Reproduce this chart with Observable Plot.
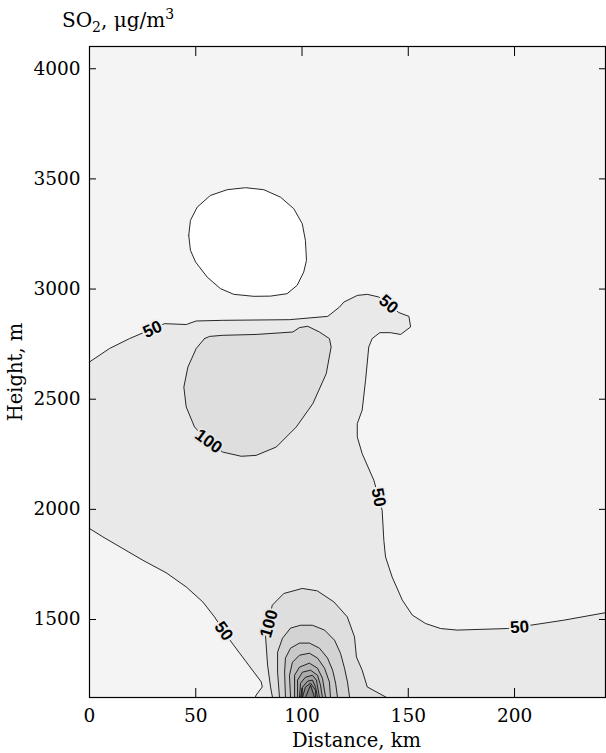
<!DOCTYPE html>
<html><head><meta charset="utf-8">
<script src="https://cdn.jsdelivr.net/npm/d3@7"></script>
<script src="https://cdn.jsdelivr.net/npm/@observablehq/plot@0.6"></script>
<style>
body{margin:0;background:#fff;}
#title{height:30px;font-family:"DejaVu Serif",serif;font-size:20px;line-height:20px;padding-left:62px;padding-top:10px;box-sizing:border-box;color:#000;}
#title sub,#title sup{font-size:14px;line-height:0;}
</style></head><body>
<div id="title">SO<sub>2</sub>, μg/m<sup>3</sup></div>
<div id="chart"></div>
<script>
// ---- axes ----
const xTicks = [0, 50, 100, 150, 200];
const yTicks = [1500, 2000, 2500, 3000, 3500, 4000];
const xDomain = [0, 242.8];
const yDomain = [1146, 4101];

// ---- contour lines, [distance km, height m] ----
const c50Upper = [[0,2669],[9.4,2730],[18.8,2775],[35.3,2843],[45.5,2839],[50.2,2855],[62.6,2858],[94.1,2861],[112.1,2876],[117.6,2918],[119.7,2941],[126.0,2971],[130.7,2976],[136.1,2964],[145.6,2893],[150.3,2876],[151.1,2828],[146.4,2794],[141.6,2802],[136.6,2802],[133.0,2775],[131.4,2737],[129.9,2586],[128.3,2450],[126.0,2389],[126.0,2329],[128.3,2253],[133.8,2132],[137.7,1996],[138.5,1860],[139.3,1784],[142.4,1693],[147.2,1588],[151.9,1520],[158.1,1482],[165.2,1459],[173.0,1452],[196.6,1459],[207.5,1474],[223.2,1497],[242.8,1531]];
const c50Lower = [[78.0,1146],[78.4,1157],[81.3,1194],[80.8,1217],[73.7,1308],[66.7,1398],[58.8,1512],[53.3,1580],[45.5,1648],[36.1,1712],[25.1,1769],[15.7,1822],[6.3,1875],[0,1913]];
const whiteBlob = [[46.7,3244],[47.5,3312],[50.7,3372],[56.9,3425],[64.8,3451],[73.4,3460],[82.0,3451],[89.9,3417],[96.1,3365],[100.1,3297],[101.6,3221],[102.1,3130],[100.8,3077],[97.7,3017],[93.0,2979],[85.2,2968],[77.3,2967],[67.9,2976],[61.6,3002],[55.4,3054],[49.9,3123],[47.5,3176]];
const c100Upper = [[54.1,2775],[50.2,2730],[46.3,2646],[44.4,2555],[45.5,2465],[49.4,2374],[56.0,2305],[62.7,2260],[71.4,2241],[78.4,2245],[87.9,2283],[97.3,2374],[105.1,2480],[111.4,2616],[113.7,2737],[112.9,2775],[108.2,2805],[102.7,2831],[98.8,2825],[95.7,2805],[78.4,2794],[62.7,2790],[56.5,2785]];
const c100Lower = [[86.1,1146],[85.2,1193],[83.8,1293],[82.8,1429],[86.0,1565],[91.4,1618],[100.1,1641],[107.2,1630],[115.0,1580],[121.3,1512],[124.7,1421],[125.6,1330],[128.3,1270],[130.7,1194],[139.8,1146]];
const c150 = [[89.4,1146],[88.5,1261],[88.5,1352],[90.8,1415],[94.6,1461],[99.3,1474],[104.9,1474],[110.6,1452],[115.3,1406],[118.1,1347],[120.0,1279],[121.4,1216],[122.4,1146]];
const c200 = [[92.2,1146],[91.8,1261],[92.2,1325],[94.6,1370],[98.8,1393],[103.5,1393],[108.2,1370],[112.0,1325],[114.4,1270],[115.8,1211],[116.7,1146]];
const c250 = [[94.6,1146],[94.1,1247],[95.5,1306],[98.8,1338],[103.5,1347],[107.3,1325],[110.6,1279],[112.9,1216],[113.4,1146]];
const c300 = [[96.5,1146],[96.5,1247],[98.8,1284],[103.5,1302],[107.3,1279],[109.6,1234],[111.1,1146]];
const c350 = [[97.9,1146],[97.9,1225],[100.2,1261],[104.0,1270],[107.3,1247],[108.7,1202],[109.6,1146]];
const c400 = [[98.8,1146],[99.3,1211],[101.6,1238],[104.9,1247],[106.8,1225],[108.2,1146]];
const c450 = [[99.3,1146],[100.2,1193],[102.6,1220],[104.9,1225],[106.4,1193],[107.3,1146]];
const c500 = [[100.2,1146],[101.6,1193],[104.0,1211],[106.4,1179],[106.4,1146]];
const c550 = [[101.6,1146],[104.0,1202],[105.9,1146]];

// ---- contour labels ----
const labelText = ["50", "50", "50", "50", "50", "100", "100"];
const labelX = [29.6, 140.7, 136.0, 202.4, 63.1, 56.0, 84.5];
const labelY = [2817, 2931, 2055, 1465, 1447, 2309, 1481];
const labelAngle = [-25, 40, 80, -4, 55, 36, -74];

// ---- styles ----
const bgGray = "#f4f4f4";
const peakContours = [c100Lower, c150, c200, c250, c300, c350, c400, c450, c500, c550];
const peakGrays = ["#dedede", "#d3d3d3", "#c9c9c9", "#bfbfbf", "#b5b5b5", "#ababab", "#a1a1a1", "#979797", "#8d8d8d", "#838383"];
const haloGrays = ["#eeeeee", "#eeeeee", "#eeeeee", "#eeeeee", "#eeeeee", "#e4e4e4", "#e4e4e4"];
const lw = 0.9;
const ink = "#111";

const X = d => d[0], Y = d => d[1];
const closed = a => [...a, a[0]];
const region50 = [...c50Upper, [xDomain[1], yDomain[0]], ...c50Lower];
const labels = labelText.map((t, i) => ({t, x: labelX[i], y: labelY[i], r: labelAngle[i], h: haloGrays[i]}));

const chart = Plot.plot({
  width: 606, height: 723,
  marginLeft: 89, marginRight: 1, marginTop: 16, marginBottom: 56,
  style: {fontFamily: "DejaVu Serif, serif", fontSize: "18px", color: "#000", background: "transparent"},
  x: {domain: xDomain},
  y: {domain: yDomain},
  marks: [
    Plot.frame({fill: bgGray}),
    Plot.line(region50, {x: X, y: Y, fill: "#e9e9e9", stroke: "none", clip: true}),
    Plot.line(c50Upper, {x: X, y: Y, stroke: ink, strokeWidth: lw, clip: true}),
    Plot.line(c50Lower, {x: X, y: Y, stroke: ink, strokeWidth: lw, clip: true}),
    Plot.line(closed(whiteBlob), {x: X, y: Y, fill: "#ffffff", stroke: ink, strokeWidth: lw}),
    Plot.line(closed(c100Upper), {x: X, y: Y, fill: "#dedede", stroke: ink, strokeWidth: lw}),
    ...peakContours.map((c, i) => Plot.line(c, {x: X, y: Y, fill: peakGrays[i], stroke: ink, strokeWidth: lw, clip: true})),
    Plot.text(labels, {x: "x", y: "y", text: "t", rotate: "r", stroke: "h", strokeWidth: 4, fill: "#000",
      fontFamily: "Liberation Sans, Arial, sans-serif", fontWeight: "bold", fontSize: 17}),
    Plot.axisX(xTicks, {anchor: "bottom", tickSize: 0, tickPadding: 11, label: null, fontSize: 18.5}),
    Plot.axisX(xTicks, {anchor: "bottom", tickSize: -9, tickFormat: () => "", label: null}),
    Plot.axisX(xTicks, {anchor: "top", tickSize: -9, tickFormat: () => "", label: null}),
    Plot.axisY(yTicks, {anchor: "left", tickSize: 0, tickPadding: 9, tickFormat: "d", label: null, fontSize: 18.5}),
    Plot.axisY(yTicks, {anchor: "left", tickSize: -7, tickFormat: () => "", label: null}),
    Plot.axisY(yTicks, {anchor: "right", tickSize: -7, tickFormat: () => "", label: null}),
    Plot.text(["Distance, km"], {text: d => d, frameAnchor: "bottom", textAnchor: "middle", dx: 9, dy: 43, lineAnchor: "middle", fontSize: 19.5}),
    Plot.text(["Height, m"], {text: d => d, frameAnchor: "left", textAnchor: "middle", dx: -74, rotate: -90, lineAnchor: "middle", fontSize: 19.5}),
    Plot.frame({stroke: "#000", strokeWidth: 1.2})
  ]
});
document.getElementById("chart").appendChild(chart);
</script>
</body></html>
